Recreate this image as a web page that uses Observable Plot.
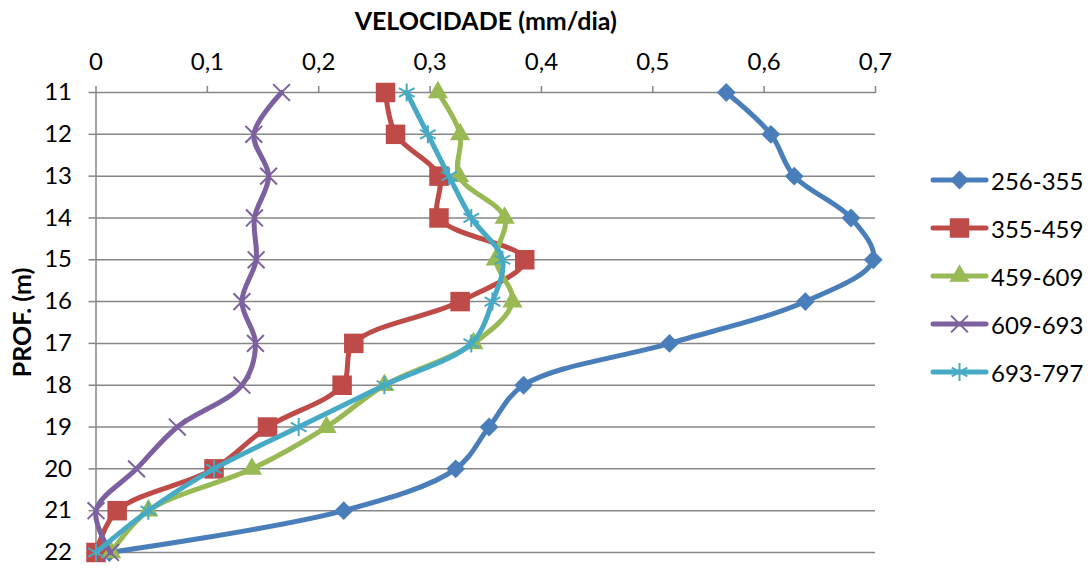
<!DOCTYPE html>
<html><head><meta charset="utf-8">
<script src="https://cdn.jsdelivr.net/npm/d3@7"></script>
<script src="https://cdn.jsdelivr.net/npm/@observablehq/plot@0.6"></script>
<style>
body{margin:0;background:#fff;}
#wrap{position:relative;width:1091px;height:568px;font-family:Lato, sans-serif;}
#legend{position:absolute;left:931px;top:0;}
.item{position:absolute;left:0;height:24px;display:flex;align-items:center;font-size:24px;white-space:nowrap;color:#000;}
.item svg{display:block;margin-right:3px;overflow:visible;}
</style></head><body><div id="wrap"></div>
<script>
const depths = [11, 12, 13, 14, 15, 16, 17, 18, 19, 20, 21, 22];
const seriesNames = ["256-355", "355-459", "459-609", "609-693", "693-797"];
const s256_355 = [0.566, 0.606, 0.627, 0.678, 0.698, 0.637, 0.515, 0.384, 0.353, 0.323, 0.2225, 0.012];
const s355_459 = [0.26, 0.269, 0.308, 0.308, 0.385, 0.327, 0.2315, 0.221, 0.154, 0.106, 0.019, 0.0];
const s459_609 = [0.307, 0.327, 0.326, 0.367, 0.359, 0.374, 0.339, 0.259, 0.207, 0.140, 0.047, 0.0136];
const s609_693 = [0.1666, 0.1417, 0.155, 0.1423, 0.1438, 0.131, 0.1432, 0.131, 0.073, 0.0364, 0.0, 0.013];
const s693_797 = [0.279, 0.298, 0.317, 0.337, 0.365, 0.356, 0.337, 0.259, 0.182, 0.106, 0.047, 0.0];
const xTicks = [0, 0.1, 0.2, 0.3, 0.4, 0.5, 0.6, 0.7];
const xTitle = "VELOCIDADE (mm/dia)";
const yTitle = "PROF. (m)";

const colors = ["#4A7EBB", "#BE4B48", "#98B954", "#7D60A0", "#46AAC5"];
const symbols = ["diamond2", "square", "triangle", "times", "asterisk"];
const d3symbols = [d3.symbolDiamond2, d3.symbolSquare, d3.symbolTriangle, d3.symbolTimes, d3.symbolAsterisk];
const radii = [8.5, 11, 7.5, 7.7, 8.5];
const filled = [true, true, true, false, false];
const values = [s256_355, s355_459, s459_609, s609_693, s693_797];

const rows = [];
seriesNames.forEach((s, i) => depths.forEach((d, j) => rows.push({serie: s, depth: d, vel: values[i][j]})));

const fmt = d => String(d).replace(".", ",");
const grey = "#868686";
const FS = 24;

const marks = [
  Plot.gridY(depths, {stroke: grey, strokeOpacity: 1, strokeWidth: 1.5}),
  Plot.ruleX([0], {stroke: grey, strokeWidth: 1.5}),
  Plot.axisX(xTicks, {anchor: "top", tickFormat: fmt, tickSize: 7, tickPadding: 16, stroke: grey, strokeWidth: 1.5, fill: "#000", fontSize: FS, label: null}),
  Plot.axisY(depths, {anchor: "left", tickSize: 7, tickPadding: 17, stroke: grey, strokeWidth: 1.5, fill: "#000", fontSize: FS, label: null}),
  Plot.text([xTitle], {frameAnchor: "top", textAnchor: "middle", lineAnchor: "middle", dy: -71, fontWeight: "bold", fontSize: 25, fill: "#000"}),
  Plot.text([yTitle], {frameAnchor: "left", textAnchor: "middle", lineAnchor: "middle", rotate: -90, dx: -73, fontWeight: "bold", fontSize: 25, fill: "#000"})
];
seriesNames.forEach((s, i) => {
  const data = rows.filter(r => r.serie === s);
  marks.push(Plot.line(data, {x: "vel", y: "depth", stroke: colors[i], strokeWidth: 5, curve: "catmull-rom", strokeLinejoin: "round", strokeLinecap: "round"}));
  marks.push(Plot.dot(data, filled[i]
    ? {x: "vel", y: "depth", symbol: symbols[i], r: radii[i], fill: colors[i], stroke: "none"}
    : {x: "vel", y: "depth", symbol: symbols[i], r: radii[i], fill: "none", stroke: colors[i], strokeWidth: 2}));
});

const chart = Plot.plot({
  width: 1091,
  height: 568,
  marginLeft: 95.5,
  marginRight: 216,
  marginTop: 92,
  marginBottom: 16,
  style: {fontFamily: "Lato, sans-serif", background: "#fff", overflow: "visible"},
  x: {domain: [0, 0.7], axis: null},
  y: {domain: [11, 22], reverse: true, axis: null},
  marks
});
const wrap = document.getElementById("wrap");
wrap.appendChild(chart);

const legend = document.createElement("div");
legend.id = "legend";
wrap.appendChild(legend);
const centers = [180, 228, 276, 324, 372];
seriesNames.forEach((s, i) => {
  const item = document.createElement("div");
  item.className = "item";
  item.style.top = (centers[i] - 12) + "px";
  const svg = d3.create("svg").attr("width", 57).attr("height", 24);
  svg.append("line").attr("x1", 2).attr("x2", 55).attr("y1", 12).attr("y2", 12)
    .attr("stroke", colors[i]).attr("stroke-width", 5).attr("stroke-linecap", "round");
  const p = svg.append("path").attr("transform", "translate(28.5,12)")
    .attr("d", d3.symbol(d3symbols[i], Math.PI * radii[i] * radii[i])());
  if (filled[i]) p.attr("fill", colors[i]); else p.attr("fill", "none").attr("stroke", colors[i]).attr("stroke-width", 2);
  item.appendChild(svg.node());
  const t = document.createElement("span");
  t.textContent = s;
  item.appendChild(t);
  legend.appendChild(item);
});
</script></body></html>
